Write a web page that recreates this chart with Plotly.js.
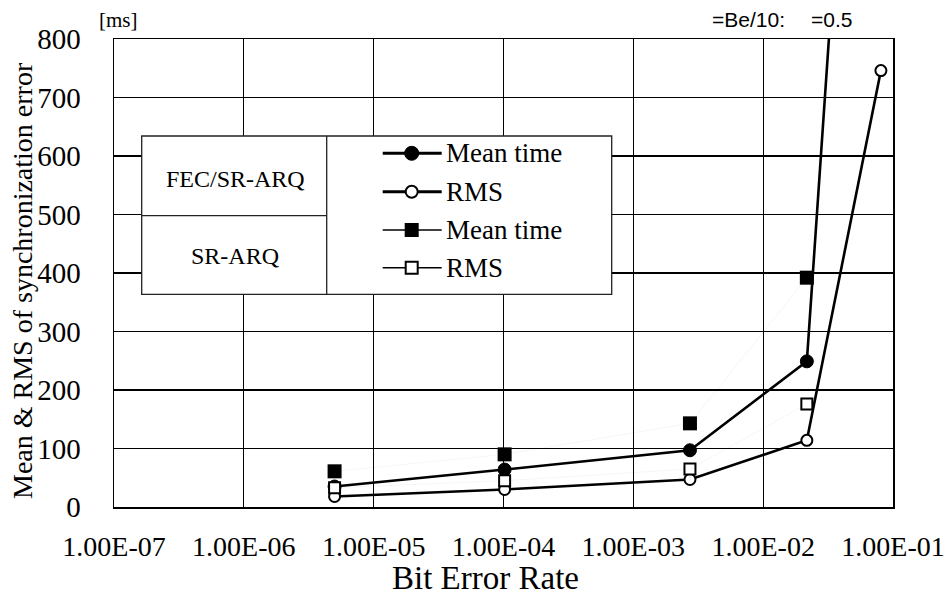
<!DOCTYPE html>
<html>
<head>
<meta charset="utf-8">
<script src="https://cdn.plot.ly/plotly-3.0.1.min.js"></script>
<style>html,body{margin:0;padding:0;background:#fff}#chart{width:948px;height:595px}</style>
</head>
<body>
<div id="chart"></div>
<script>
// ---- data ----
const berFec = [5.0e-6, 1.02e-4, 2.73e-3, 2.17e-2, 3.3e-2];
const fecMean = [35, 64, 97, 249, 840];
const berFecRms = [5.0e-6, 1.02e-4, 2.73e-3, 2.17e-2, 8.07e-2];
const fecRms = [18, 30, 47, 114, 746];
const berSr = [5.0e-6, 1.02e-4, 2.73e-3, 2.17e-2];
const srMean = [61, 90, 143, 392];
const srRms = [33, 45, 65, 176];
const xTickVals = [1e-7, 1e-6, 1e-5, 1e-4, 1e-3, 1e-2, 1e-1];
const xTickText = ['1.00E-07','1.00E-06','1.00E-05','1.00E-04','1.00E-03','1.00E-02','1.00E-01'];
const yTickVals = [0,100,200,300,400,500,600,700,800];
const legendLabels = ['Mean time','RMS','Mean time','RMS'];
const groupLabels = ['FEC/SR-ARQ','SR-ARQ'];

// ---- layout helpers (pixel -> paper) ----
const L = 114, R = 893, T = 39, B = 507;
const px = v => (v - L) / (R - L);
const py = v => (B - v) / (B - T);
const serif = 'Liberation Serif';
const sans = 'Liberation Sans';

const traces = [
  {x: berFec, y: fecMean, name: 'FEC/SR-ARQ Mean time', mode: 'lines+markers', cliponaxis: false,
   line: {color: '#000', width: 2.6}, marker: {symbol: 'circle', size: [13,13,13,13,0], opacity: [1,1,1,1,0], color: '#000', line: {color: '#000', width: 1}}},
  {x: berFecRms, y: fecRms, name: 'FEC/SR-ARQ RMS', mode: 'lines+markers', cliponaxis: false,
   line: {color: '#000', width: 2.6}, marker: {symbol: 'circle', size: 11, color: '#fff', line: {color: '#000', width: 2}}},
  {x: berSr, y: srMean, name: 'SR-ARQ Mean time', mode: 'lines+markers', cliponaxis: false,
   line: {color: 'rgba(0,0,0,0.04)', width: 1}, marker: {symbol: 'square', size: 14, color: '#000', line: {color: '#000', width: 0}}},
  {x: berSr, y: srRms, name: 'SR-ARQ RMS', mode: 'lines+markers', cliponaxis: false,
   line: {color: 'rgba(0,0,0,0.04)', width: 1}, marker: {symbol: 'square', size: 11, color: '#fff', line: {color: '#000', width: 2}}}
];

// ---- legend box drawn as shapes/annotations ----
const shapes = [];
const annotations = [];
shapes.push({type:'rect', xref:'paper', yref:'paper', x0:px(141.7), x1:px(611.7), y0:py(294.3), y1:py(136),
  fillcolor:'#fff', line:{color:'#222', width:1.3}, layer:'above'});
shapes.push({type:'line', xref:'paper', yref:'paper', x0:px(326.7), x1:px(326.7), y0:py(294.3), y1:py(136),
  line:{color:'#222', width:1.3}});
shapes.push({type:'line', xref:'paper', yref:'paper', x0:px(141.7), x1:px(326.7), y0:py(215.7), y1:py(215.7),
  line:{color:'#222', width:1.3}});
const rowsY = [153.3, 191.7, 230, 267.7];
const lineW = [3, 3, 1.5, 1.5];
rowsY.forEach((yy, i) => {
  shapes.push({type:'line', xref:'paper', yref:'paper', x0:px(382.7), x1:px(441.7), y0:py(yy), y1:py(yy),
    line:{color:'#000', width:lineW[i]}});
  const base = {xref:'paper', yref:'paper', xsizemode:'pixel', ysizemode:'pixel', xanchor:px(411.7), yanchor:py(yy)};
  if (i === 0) shapes.push(Object.assign({type:'circle', x0:-7, x1:7, y0:-7, y1:7, fillcolor:'#000', line:{color:'#000', width:1}}, base));
  if (i === 1) shapes.push(Object.assign({type:'circle', x0:-6, x1:6, y0:-6, y1:6, fillcolor:'#fff', line:{color:'#000', width:2}}, base));
  if (i === 2) shapes.push(Object.assign({type:'rect', x0:-7, x1:7, y0:-7, y1:7, fillcolor:'#000', line:{color:'#000', width:0}}, base));
  if (i === 3) shapes.push(Object.assign({type:'rect', x0:-6, x1:6, y0:-6, y1:6, fillcolor:'#fff', line:{color:'#000', width:2}}, base));
  annotations.push({xref:'paper', yref:'paper', x:px(444), y:py(yy), xanchor:'left', yanchor:'middle',
    text: legendLabels[i], showarrow:false, font:{family:serif, size:27, color:'#000'}});
});
annotations.push({xref:'paper', yref:'paper', x:px(235), y:py(179), xanchor:'center', yanchor:'middle',
  text: groupLabels[0], showarrow:false, font:{family:serif, size:24, color:'#000'}});
annotations.push({xref:'paper', yref:'paper', x:px(235), y:py(256), xanchor:'center', yanchor:'middle',
  text: groupLabels[1], showarrow:false, font:{family:serif, size:24, color:'#000'}});

// unit, titles and top note
annotations.push({xref:'paper', yref:'paper', x:px(118), y:py(20), xanchor:'center', yanchor:'middle',
  text:'[ms]', showarrow:false, font:{family:serif, size:21, color:'#000'}});
annotations.push({xref:'paper', yref:'paper', x:px(22), y:py(281), xanchor:'center', yanchor:'middle', textangle:-90,
  text:'Mean &amp; RMS of synchronization error', showarrow:false, font:{family:serif, size:28, color:'#000'}});
annotations.push({xref:'paper', yref:'paper', x:px(485.5), y:py(578), xanchor:'center', yanchor:'middle',
  text:'Bit Error Rate', showarrow:false, font:{family:serif, size:33, color:'#000'}});
annotations.push({xref:'paper', yref:'paper', x:px(710), y:py(20), xanchor:'left', yanchor:'middle',
  text:'=Be/10:', showarrow:false, font:{family:sans, size:21, color:'#000'}});
annotations.push({xref:'paper', yref:'paper', x:px(809), y:py(20), xanchor:'left', yanchor:'middle',
  text:'=0.5', showarrow:false, font:{family:sans, size:21, color:'#000'}});

const layout = {
  width: 948, height: 595,
  margin: {l: L, r: 948 - R, t: T, b: 595 - B, pad: 0},
  paper_bgcolor: '#fff', plot_bgcolor: '#fff',
  showlegend: false,
  font: {family: serif, color: '#000'},
  xaxis: {type: 'log', range: [-7, -1], tickvals: xTickVals, ticktext: xTickText,
    showgrid: true, gridcolor: '#000', gridwidth: 1.3, showline: true, mirror: true, linecolor: '#000', linewidth: 1.5,
    ticks: '', ticklabelstandoff: 14, tickfont: {family: serif, size: 28, color: '#000'}, zeroline: false},
  yaxis: {range: [0, 800], tickvals: yTickVals, showgrid: true, gridcolor: '#000', gridwidth: 1.3,
    showline: true, mirror: true, linecolor: '#000', linewidth: 1.5, ticks: '', ticklabelstandoff: 26,
    tickfont: {family: serif, size: 29, color: '#000'}, zeroline: false},
  shapes: shapes,
  annotations: annotations
};

Plotly.newPlot('chart', traces, layout, {displayModeBar: false, staticPlot: true});
</script>
</body>
</html>
